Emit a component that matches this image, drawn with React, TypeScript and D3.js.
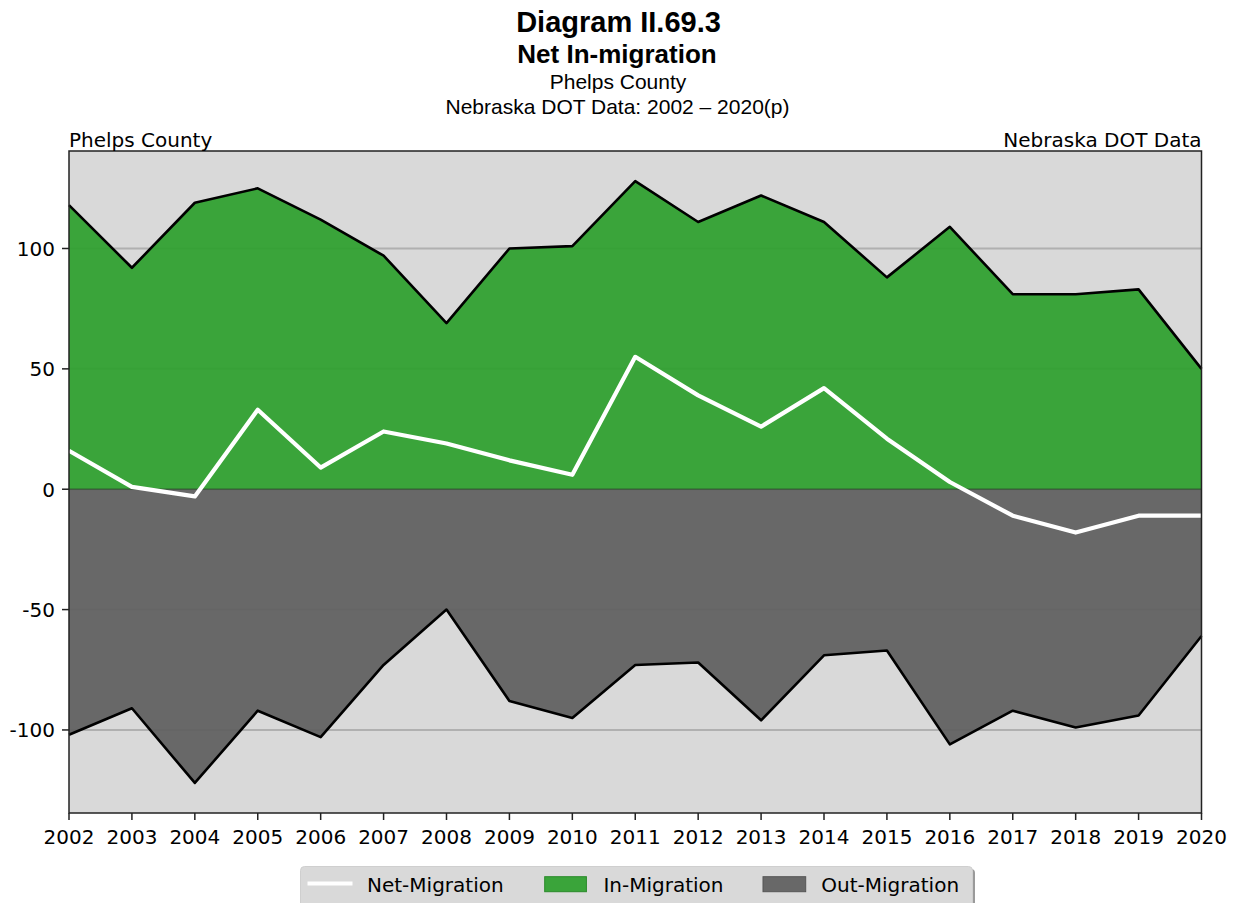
import React from "react";
import * as d3 from "d3";

const years = [2002, 2003, 2004, 2005, 2006, 2007, 2008, 2009, 2010, 2011, 2012, 2013, 2014, 2015, 2016, 2017, 2018, 2019, 2020];
const inMigration = [118, 92, 119, 125, 112, 97, 69, 100, 101, 128, 111, 122, 111, 88, 109, 81, 81, 83, 50];
const outMigration = [-102, -91, -122, -92, -103, -73, -50, -88, -95, -73, -72, -96, -69, -67, -106, -92, -99, -94, -61];
const netMigration = [16, 1, -3, 33, 9, 24, 19, 12, 6, 55, 39, 26, 42, 21, 3, -11, -18, -11, -11];
const yTicks = [100, 50, 0, -50, -100];
const titleLines = ["Diagram II.69.3", "Net In-migration", "Phelps County", "Nebraska DOT Data: 2002 \u2013 2020(p)"];
const legendLabels = ["Net-Migration", "In-Migration", "Out-Migration"];

const W = 1237;
const H = 903;
const L = 69, R = 1201.5, T = 151, B = 813;

export default function App() {
  const x = d3.scaleLinear().domain([2002, 2020]).range([L, R]);
  const y = d3.scaleLinear().domain([-134.5, 140.5]).range([B, T]);

  const inArea = d3.area<number>().x((_, i) => x(years[i])).y0(y(0)).y1((d) => y(d))(inMigration) || "";
  const outArea = d3.area<number>().x((_, i) => x(years[i])).y0(y(0)).y1((d) => y(d))(outMigration) || "";
  const lineGen = d3.line<number>().x((_, i) => x(years[i])).y((d) => y(d));
  const inLine = lineGen(inMigration) || "";
  const outLine = lineGen(outMigration) || "";
  const netLine = lineGen(netMigration) || "";

  const dejavu = "DejaVu Sans, sans-serif";
  const arial = "Liberation Sans, Arial, sans-serif";

  return (
    <svg width={W} height={H} style={{ position: "absolute", left: 0, top: 0 }} xmlns="http://www.w3.org/2000/svg">
      <rect x={0} y={0} width={W} height={H} fill="#ffffff" />
      {/* titles */}
      <text x={618.5} y={31.5} textAnchor="middle" fontFamily={arial} fontWeight="bold" fontSize={29} fill="#000">{titleLines[0]}</text>
      <text x={617} y={63} textAnchor="middle" fontFamily={arial} fontWeight="bold" fontSize={26} fill="#000">{titleLines[1]}</text>
      <text x={618} y={88.5} textAnchor="middle" fontFamily={arial} fontSize={21} fill="#000">{titleLines[2]}</text>
      <text x={617.5} y={114} textAnchor="middle" fontFamily={arial} fontSize={21} fill="#000">{titleLines[3]}</text>

      {/* plot background */}
      <rect x={L} y={T} width={R - L} height={B - T} fill="#d9d9d9" />
      {/* grid */}
      {yTicks.map((t) => (
        <line key={"g" + t} x1={L} x2={R} y1={y(t)} y2={y(t)} stroke="#b0b0b0" strokeWidth={2} />
      ))}
      {/* areas */}
      <path d={inArea} fill="#2ca02c" fillOpacity={0.92} />
      <path d={outArea} fill="#5e5e5e" fillOpacity={0.92} />
      <line x1={L} x2={R} y1={y(0)} y2={y(0)} stroke="#2f4f2f" strokeOpacity={0.7} strokeWidth={1.5} />
      <path d={inLine} fill="none" stroke="#000" strokeWidth={2.6} strokeLinejoin="round" />
      <path d={outLine} fill="none" stroke="#000" strokeWidth={2.6} strokeLinejoin="round" />
      <path d={netLine} fill="none" stroke="#ffffff" strokeWidth={4.2} strokeLinejoin="round" />

      {/* frame */}
      <rect x={L} y={T} width={R - L} height={B - T} fill="none" stroke="#222" strokeWidth={1.5} />

      {/* y ticks */}
      {yTicks.map((t) => (
        <g key={"y" + t}>
          <line x1={L - 7} x2={L} y1={y(t)} y2={y(t)} stroke="#222" strokeWidth={1.5} />
          <text x={55} y={y(t) + 7.3} textAnchor="end" fontFamily={dejavu} fontSize={20} fill="#000">{t}</text>
        </g>
      ))}
      {/* x ticks */}
      {years.map((yr) => (
        <g key={"x" + yr}>
          <line x1={x(yr)} x2={x(yr)} y1={B} y2={B + 7} stroke="#222" strokeWidth={1.5} />
          <text x={x(yr)} y={844.3} textAnchor="middle" fontFamily={dejavu} fontSize={20} fill="#000">{yr}</text>
        </g>
      ))}

      {/* corner labels */}
      <text x={L} y={146.5} fontFamily={dejavu} fontSize={20} fill="#000">Phelps County</text>
      <text x={R} y={146.5} textAnchor="end" fontFamily={dejavu} fontSize={20} fill="#000">Nebraska DOT Data</text>

      {/* legend */}
      <rect x={303} y={869} width={672} height={50} rx={4} fill="#9a9a9a" />
      <rect x={300.5} y={866.5} width={672} height={50} rx={4} fill="#d9d9d9" stroke="#cfcfcf" strokeWidth={1} />
      <line x1={307.5} x2={352.5} y1={883.5} y2={883.5} stroke="#ffffff" strokeWidth={4.2} />
      <text x={367} y={891.5} fontFamily={dejavu} fontSize={20} fill="#000">{legendLabels[0]}</text>
      <rect x={544.7} y={876.7} width={41.7} height={15} fill="#2ca02c" fillOpacity={0.92} stroke="#2a8a2a" strokeWidth={1} />
      <text x={603.4} y={891.5} fontFamily={dejavu} fontSize={20} fill="#000">{legendLabels[1]}</text>
      <rect x={763} y={876.7} width={42.7} height={15} fill="#5e5e5e" fillOpacity={0.92} stroke="#555" strokeWidth={1} />
      <text x={821.3} y={891.5} fontFamily={dejavu} fontSize={20} fill="#000">{legendLabels[2]}</text>
    </svg>
  );
}
